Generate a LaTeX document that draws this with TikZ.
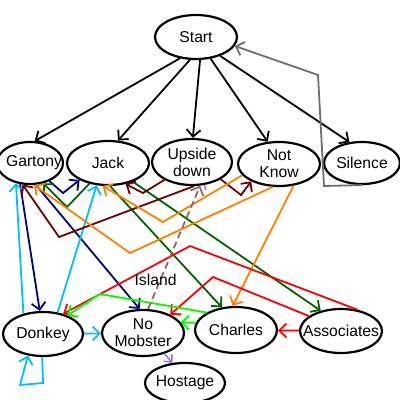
\documentclass[tikz,border=0pt]{standalone}
\usepackage{fontspec}
\setmainfont{Liberation Sans}
\usetikzlibrary{arrows.meta,shapes.geometric}
\definecolor{cnavy}{RGB}{0,0,128}
\definecolor{ccyan}{RGB}{0,191,255}
\definecolor{cdgreen}{RGB}{0,100,0}
\definecolor{cmaroon}{RGB}{110,0,0}
\definecolor{corange}{RGB}{255,127,0}
\definecolor{cred}{RGB}{255,0,0}
\definecolor{clime}{RGB}{0,255,0}
\definecolor{cviolet}{RGB}{160,100,255}
\definecolor{crosy}{RGB}{150,100,100}
\definecolor{cgray}{RGB}{110,110,110}
\begin{document}
\begin{tikzpicture}[x=1pt,y=-1pt,
  st/.style={draw, line width=2.2pt, ellipse, inner sep=0pt, minimum width=82pt, minimum height=44pt},
  lbl/.style={font=\fontsize{15.7}{17}\selectfont, align=center, inner sep=0pt},
  e/.style={line width=1.8pt, line join=miter, -{Straight Barb[length=7pt,width=14pt]}},
  lab/.style={font=\fontsize{15.7}{17}\selectfont, inner sep=0pt, text=black}]
\useasboundingbox (0,0) rectangle (400,400);
% nodes
\node[st] (Start) at (196,37) {};
\node[lbl] at (Start) {Start};
\node[st, minimum width=66pt, minimum height=42pt] (Gartony) at (30,163) {};
\node[lbl] at (34,163) {Gartony};
\node[st] (Jack) at (108,163) {};
\node[lbl] at (Jack) {Jack};
\node[st, minimum width=80pt, minimum height=46pt] (Upside) at (192,162) {};
\node[lbl] at (Upside) {Upside\\down};
\node[st] (NotKnow) at (279,164) {};
\node[lbl] at (NotKnow) {Not\\Know};
\node[st, minimum width=76pt, minimum height=42pt] (Silence) at (362,163) {};
\node[lbl] at (Silence) {Silence};
\node[st, minimum width=80pt] (Donkey) at (43,334) {};
\node[lbl] at (Donkey) {Donkey};
\node[st, minimum height=46pt] (NoMobster) at (143,333) {};
\node[lbl] at (NoMobster) {No\\Mobster};
\node[st, minimum width=80pt, minimum height=40pt] (Hostage) at (185,383) {};
\node[lbl] at (Hostage) {Hostage};
\node[st, minimum height=46pt] (Charles) at (236,330) {};
\node[lbl] at (Charles) {Charles};
\node[st] (Associates) at (341,331) {};
\node[lbl] at (Associates) {Associates};
% black edges from Start
\draw[e] (Start.233) -- (Gartony.78);
\draw[e] (Start.255) -- (Jack.66);
\draw[e] (Start.280) -- (Upside.88);
\draw[e] (Start.304) -- (NotKnow.117);
\draw[e] (Start.322) -- (Silence.121);
% gray
\draw[e, cgray] (Silence.south) -- (324,186) -- (318,75) -- (Start.347);
% navy
\draw[e, cnavy] (Gartony.317) -- (63,193) -- (Jack.211);
\draw[e, cnavy] (Gartony.245) -- (Donkey.98);
\draw[e, cnavy] (Gartony.285) -- (NoMobster.98);
% cyan
\draw[e, ccyan] (Donkey.134) -- (Gartony.235);
\draw[e, ccyan] (Donkey.56) -- (Jack.243);
\draw[e, ccyan] (Donkey) -- (NoMobster);
\draw[e, ccyan] (Donkey.268) -- (43,383) -- (20,385) -- (Donkey.235);
% dark green
\draw[e, cdgreen] (Jack.228) -- (67,207) -- (Gartony.303);
\draw[e, cdgreen] (Jack.275) -- (Charles.122);
\draw[e, cdgreen] (Jack.323) -- (Associates.135);
% maroon
\draw[e, cmaroon] (Upside.213) -- (143,193) -- (Jack.310);
\draw[e, cmaroon] (Upside.275) -- (59,237) -- (Gartony.251);
\draw[e, cmaroon] (Upside.329) -- (241,195) -- (NotKnow.212);
% orange
\draw[e, corange] (NotKnow.197) -- (163,222) -- (Jack.257);
\draw[e, corange] (NotKnow.255) -- (130,253) -- (Gartony.280);
\draw[e, corange] (NotKnow.304) -- (Charles.98);
% red
\draw[e, cred] (Associates.52) -- (190,246) -- (Donkey.45);
\draw[e, cred] (Associates.155) -- (213,277) -- (NoMobster.34);
\draw[e, cred] (Associates) -- (Charles);
% lime
\draw[e, clime] (Charles.149) -- (100,294) -- (Donkey.37);
\draw[e, clime] (Charles.170) -- (NoMobster.16);
% violet
\draw[e, cviolet, line width=1.4pt, -{Straight Barb[length=6pt,width=11pt]}] (NoMobster.316) -- (Hostage.122);
\coordinate (vend) at (206,190);
\draw[cviolet, line width=1.4pt] (Upside.298) -- (vend);
% dashed
\draw[e, crosy, dash pattern=on 7pt off 4pt] (NoMobster.78) -- node[lab, pos=0.24, xshift=-5pt] {Island} (Upside.289);
\end{tikzpicture}
\end{document}
